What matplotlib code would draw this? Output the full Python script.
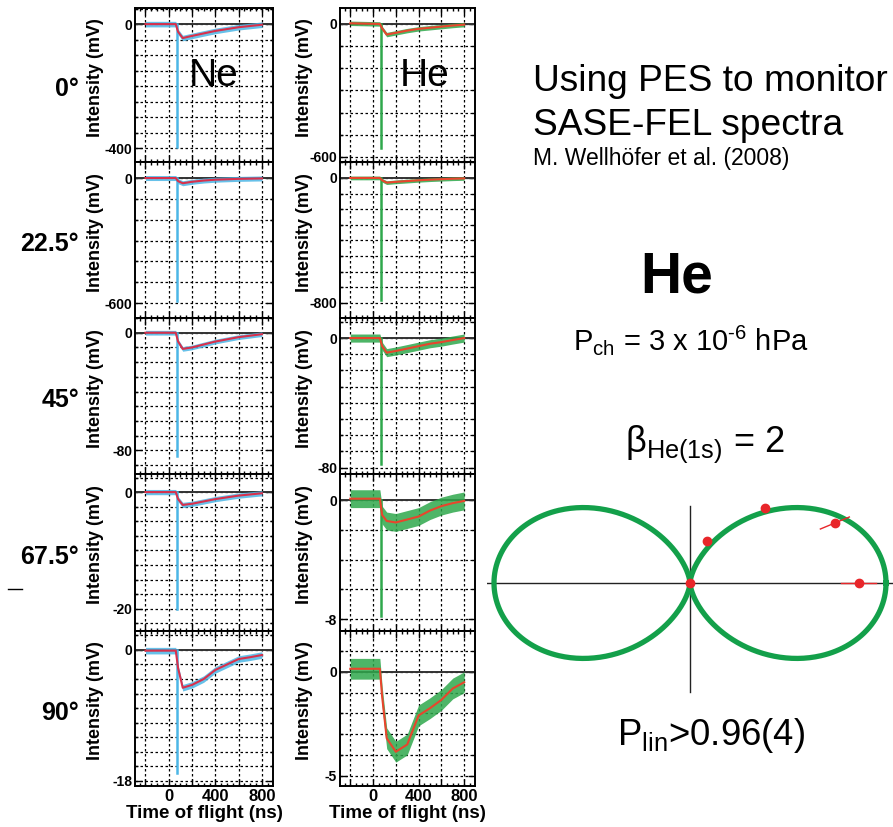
import matplotlib.pyplot as plt
import numpy as np
from matplotlib.lines import Line2D
from matplotlib.ticker import MultipleLocator

plt.rcParams['font.family'] = ['Liberation Sans', 'DejaVu Sans']
plt.rcParams['mathtext.fontset'] = 'custom'
plt.rcParams['mathtext.rm'] = 'Liberation Sans'
plt.rcParams['mathtext.it'] = 'Liberation Sans:italic'
plt.rcParams['mathtext.bf'] = 'Liberation Sans:bold'
plt.rcParams['axes.unicode_minus'] = False

# ---- data ----
angles = ['0°', '22.5°', '45°', '67.5°', '90°']
t_ns = [-200, 60, 80, 120, 200, 300, 400, 500, 600, 700, 800]
spike_t = 70

ne_fit = [
    [0, 0, -25, -45, -38, -30, -22, -16, -10, -6, -2],
    [0, 0, -15, -25, -18, -12, -8, -6, -4, -3, -2],
    [0, 0, -6, -11, -10, -8, -6, -4.5, -3, -2, -1],
    [0, 0, -1.2, -2.2, -2.0, -1.6, -1.2, -0.9, -0.6, -0.4, -0.2],
    [-0.1, -0.1, -2.5, -5.2, -4.8, -4.0, -2.75, -2.0, -1.25, -1.0, -0.7],
]
ne_spike = [-395, -590, -84, -20, -16.9]
ne_noise = [9, 12, 1.6, 0.45, 0.45]
ne_ymin = [-400, -600, -80, -20, -18]

he_fit = [
    [3, 0, -20, -48, -40, -30, -22, -17, -12, -7, -3],
    [0, 0, -15, -30, -25, -20, -15, -11, -8, -5, -3],
    [0, 0, -5, -9, -8, -6.5, -5, -3.5, -2.5, -1.2, 0],
    [0.1, 0.1, -1.0, -1.4, -1.5, -1.3, -1.1, -0.7, -0.4, -0.2, -0.05],
    [0.15, 0.15, -1.2, -3.2, -3.85, -3.5, -2.1, -1.75, -1.35, -0.8, -0.5],
]
he_spike = [-560, -780, -78, -7.8, None]
he_noise = [10, 12, 2.5, 0.6, 0.5]
he_ymin = [-600, -800, -80, -8, -5]

beta = 2.0
meas_angle = [0, 22.5, 45, 67.5, 90]
meas_r = [0.86, 0.80, 0.54, 0.23, 0.0]
meas_err = [0.09, 0.08, 0.0, 0.0, 0.0]

# ---- layout (pixels) ----
W, H = 893, 827
row_edges = [8, 162, 318, 474, 631, 786]
ne_ylim = [(-445, 52), (-672, 77), (-96, 10), (-23.8, 3.1), (-18.7, 2.6)]
ne_step = [50, 100, 10, 2.5, 2]
he_ylim = [(-623, 72), (-896, 102), (-84, 12.4), (-8.8, 1.76), (-5.5, 1.97)]
he_step = [100, 100, 10, 2, 1]

fig = plt.figure(figsize=(W / 100, H / 100), dpi=100)


def px_axes(l, t, r, b):
    return fig.add_axes([l / W, 1 - b / H, (r - l) / W, (b - t) / H])


def trace_panel(ax, fit, spike, noise, ymin, ylim, step, raw_c, fit_c, bottom, lab_x):
    t = np.array(t_ns, dtype=float)
    f = np.array(fit, dtype=float)
    ax.fill_between(t, f - noise, f + noise, color=raw_c, lw=0, alpha=0.85, zorder=3)
    if spike is not None:
        ax.plot([spike_t, spike_t], [0, spike], color=raw_c, lw=1.8, zorder=3)
    ax.plot(t, f, color=fit_c, lw=1.5, zorder=4)
    ax.axhline(0, color='#333333', lw=1.4, zorder=2)
    ax.set_xlim(-290, 895)
    ax.set_ylim(*ylim)
    ax.set_axisbelow(True)
    ax.set_xticks(range(-200, 801, 200))
    ax.xaxis.set_minor_locator(MultipleLocator(50))
    ax.set_yticks([0, ymin])
    ax.set_yticklabels(['0', str(ymin)], fontweight='bold', fontsize=10)
    ax.yaxis.set_minor_locator(MultipleLocator(step))
    ax.grid(which='major', axis='x', color='k', ls=(0, (2, 2)), lw=0.9)
    ax.grid(which='both', axis='y', color='k', ls=(0, (2, 2)), lw=0.9)
    ax.tick_params(which='both', direction='in', top=True, right=True, width=1)
    ax.tick_params(which='major', length=5, pad=2)
    ax.tick_params(which='minor', length=2.5)
    for s in ax.spines.values():
        s.set_linewidth(1.4)
    ax.set_ylabel('Intensity (mV)', fontsize=13, fontweight='bold')
    ax.yaxis.set_label_coords(lab_x, 0.55)
    if bottom:
        ax.set_xticklabels(['', '0', '', '400', '', '800'], fontweight='bold', fontsize=12)
        ax.set_xlabel('Time of flight (ns)', fontsize=13.5, fontweight='bold', labelpad=1)
    else:
        ax.tick_params(labelbottom=False)


for i in range(5):
    top, bot = row_edges[i], row_edges[i + 1]
    ax_ne = px_axes(135, top, 273, bot)
    trace_panel(ax_ne, ne_fit[i], ne_spike[i], ne_noise[i], ne_ymin[i], ne_ylim[i],
                ne_step[i], '#4cb6e6', '#d8304c', i == 4, -0.225)
    ax_he = px_axes(340, top, 475, bot)
    trace_panel(ax_he, he_fit[i], he_spike[i], he_noise[i], he_ymin[i], he_ylim[i],
                he_step[i], '#2fa84c', '#e8452c', i == 4, -0.2)
    if i == 0:
        ax_ne.text(0.57, 0.56, 'Ne', transform=ax_ne.transAxes, fontsize=28,
                   ha='center', va='center', zorder=6)
        ax_he.text(0.63, 0.56, 'He', transform=ax_he.transAxes, fontsize=28,
                   ha='center', va='center', zorder=6)
    fig.text(79 / W, 1 - ((top + bot) / 2 + 4) / H, angles[i], fontsize=18,
             fontweight='bold', ha='right', va='center')

# small stray dash on the left
fig.add_artist(Line2D([8 / W, 22 / W], [1 - 589 / H, 1 - 589 / H], color='k', lw=1))

# ---- right-hand text ----
fig.text(533 / W, 1 - 91 / H, 'Using PES to monitor', fontsize=26.7, va='baseline')
fig.text(533 / W, 1 - 135 / H, 'SASE-FEL spectra', fontsize=26.7, va='baseline')
fig.text(533 / W, 1 - 165 / H, 'M. Wellhöfer et al. (2008)', fontsize=16.5, va='baseline')
fig.text(677 / W, 1 - 293 / H, 'He', fontsize=41, fontweight='bold', ha='center', va='baseline')
fig.text(573 / W, 1 - 350 / H, 'P$_{\\mathrm{ch}}$ = 3 x 10$^{\\mathrm{\u20106}}$ hPa',
         fontsize=21, va='baseline')
fig.text(625 / W, 1 - 452 / H, r'β$_{\mathrm{He(1s)}}$ = 2', fontsize=26, va='baseline')
fig.text(617 / W, 1 - 745 / H, r'P$_{\mathrm{lin}}$>0.96(4)', fontsize=26.3, va='baseline')

# ---- angular distribution ----
pax = px_axes(487, 495, 893, 700)
th = np.linspace(0, 2 * np.pi, 721)
r = (1 + beta * 0.5 * (3 * np.cos(th) ** 2 - 1)) / (1 + beta)
pax.axhline(0, color='#222222', lw=1, zorder=1)
pax.axvline(0, ymin=(700 - 692) / 205, ymax=(700 - 506) / 205, color='#222222', lw=1, zorder=1)
pax.plot(r * np.cos(th), r * np.sin(th), color='#13a04a', lw=3.8, zorder=2)
a = np.radians(meas_angle)
mr = np.array(meas_r)
me = np.array(meas_err)
for ai, ri, ei in zip(a, mr, me):
    if ei > 0:
        pax.plot([(ri - ei) * np.cos(ai), (ri + ei) * np.cos(ai)],
                 [(ri - ei) * np.sin(ai), (ri + ei) * np.sin(ai)],
                 color='#e8262a', lw=1, zorder=3)
pax.plot(mr * np.cos(a), mr * np.sin(a), 'o', color='#e8262a', ms=6, zorder=4, clip_on=False)
pax.set_xlim(-1.0357, 1.0357)
pax.set_ylim(-0.597, 0.449)
pax.axis('off')

plt.savefig('out.png', dpi=100)
